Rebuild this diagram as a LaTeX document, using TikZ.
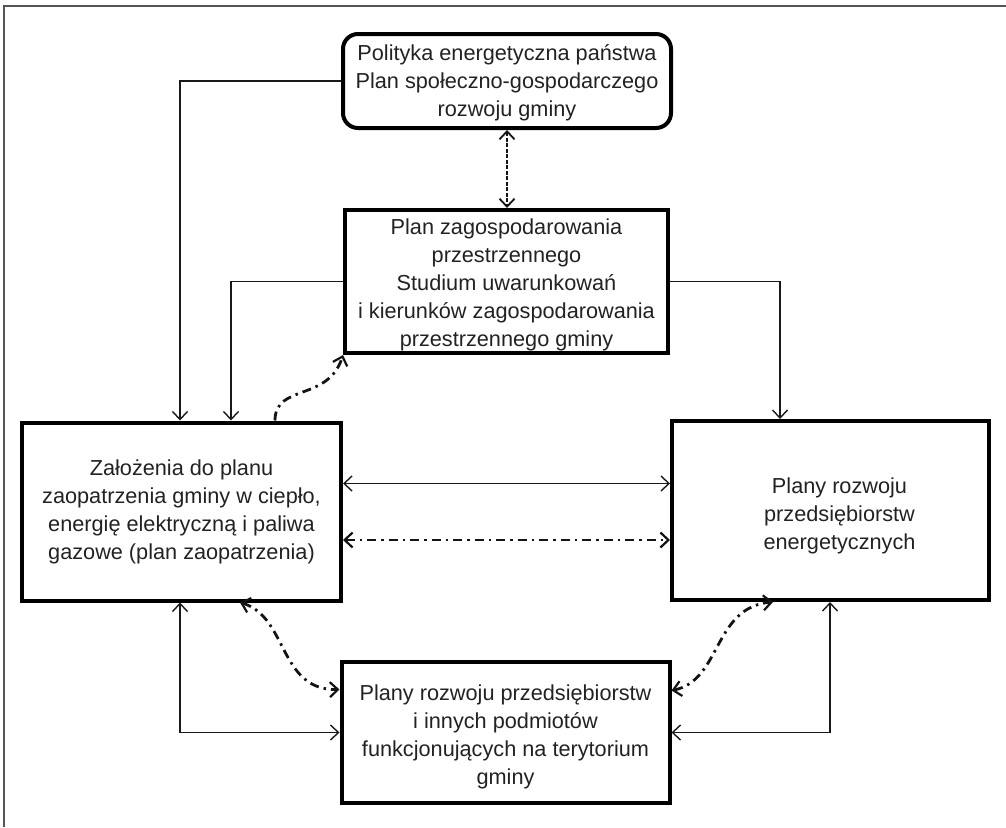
\documentclass[tikz,border=0pt]{standalone}
\usepackage{fontspec}
\setmainfont{Liberation Sans}
\usetikzlibrary{arrows.meta,calc}
\definecolor{ink}{HTML}{222222}
\definecolor{framegray}{HTML}{555555}
% invisible strut that sets the height of a box's first text line
\newcommand\firstline[1]{\rule{0pt}{#1}}
\tikzset{
  box/.style={draw=black, line width=4pt, inner sep=0pt, align=center,
    text=ink, font=\fontsize{21.7}{28}\selectfont},
  conn/.style={line width=1.2pt, draw=black!90, arrows={-Straight Barb[length=8pt,width=15pt,line width=1.4pt]}},
  conn2/.style={line width=1.2pt, draw=black!90,
    arrows={Straight Barb[length=8pt,width=15pt,line width=1.4pt]-Straight Barb[length=8pt,width=15pt,line width=1.4pt]}},
  dconn/.style={line width=2.8pt, draw=black!92,
    dash pattern=on 9pt off 5pt on 2.5pt off 5pt,
    arrows={-Straight Barb[length=8pt,width=15pt,line width=2.2pt]}},
  dconn2/.style={line width=2.8pt, draw=black!92,
    dash pattern=on 9pt off 5pt on 2.5pt off 5pt,
    arrows={Straight Barb[length=8pt,width=15pt,line width=2.2pt]-Straight Barb[length=8pt,width=15pt,line width=2.2pt]}},
  vdash/.style={line width=2.2pt, draw=black!92,
    dash pattern=on 4pt off 1.5pt,
    arrows={Straight Barb[length=8pt,width=15pt,line width=1.8pt]-Straight Barb[length=8pt,width=15pt,line width=1.8pt]}},
}
\begin{document}
\begin{tikzpicture}[x=1pt,y=-1pt]
\useasboundingbox (0,0) rectangle (1006,827);
% frame
\draw[framegray, line width=1.5pt] (4,827) -- (4,6) -- (1006,6);

% boxes
\node[box, rounded corners=15pt, minimum width=328pt, minimum height=94pt]
  (top) at (507,81) {\firstline{19pt}Polityka energetyczna państwa\\Plan społeczno-gospodarczego\\rozwoju gminy};
\node[box, minimum width=323pt, minimum height=143pt]
  (mid) at (506.5,281.5) {\firstline{22pt}Plan zagospodarowania\\przestrzennego\\Studium uwarunkowań\\i kierunków zagospodarowania\\przestrzennego gminy};
\node[box, minimum width=319pt, minimum height=178pt]
  (left) at (181.5,511.5) {Założenia do planu\\zaopatrzenia gminy w ciepło,\\energię elektryczną i paliwa\\gazowe (plan zaopatrzenia)};
\node[box, minimum width=317pt, minimum height=179pt]
  (right) at (830.5,510.5) {\firstline{26pt}\hspace*{18pt}Plany rozwoju\\\hspace*{18pt}przedsiębiorstw\\\hspace*{18pt}energetycznych};
\node[box, minimum width=328pt, minimum height=141pt]
  (bot) at (505.5,732.5) {\firstline{24pt}Plany rozwoju przedsiębiorstw\\i innych podmiotów\\funkcjonujących na terytorium\\gminy};

% solid connectors
\draw[conn] (top.west) -| ([xshift=160pt]left.north west);
\draw[conn] (mid.west) -| ([xshift=211pt]left.north west);
\draw[conn] (mid.east) -| ([xshift=110pt]right.north west);
\draw[conn2] ([yshift=28pt]left.east) -- ([yshift=28pt]left.east -| right.west);
\draw[conn2] ([xshift=160pt]left.south west) |- (bot.west);
\draw[conn2] ([xshift=160pt]right.south west) |- (bot.east);

% top to middle
\draw[vdash] (top.south) -- (top.south |- mid.north);

% dash-dot connectors
\draw[dconn] ([xshift=255pt]left.north west) .. controls ($([xshift=255pt]left.north west)+(0,-37)$) and ($(mid.south west)+(-15,47)$) .. (mid.south west);
\draw[dconn2] ([yshift=-28.5pt]left.east) -- ([yshift=-28.5pt]left.east -| right.west);
\draw[dconn2] ([xshift=220pt]left.south west) .. controls ($([xshift=220pt]left.south west)+(48,14)$) and ($([yshift=43pt]bot.west)+(-61,1)$) .. ([yshift=43pt]bot.west);
\draw[dconn2] ([yshift=42pt]bot.east) .. controls ($([yshift=42pt]bot.east)+(50,-10)$) and ($([xshift=103pt]right.south west)+(-60,5)$) .. ([xshift=103pt]right.south west);
\end{tikzpicture}
\end{document}
